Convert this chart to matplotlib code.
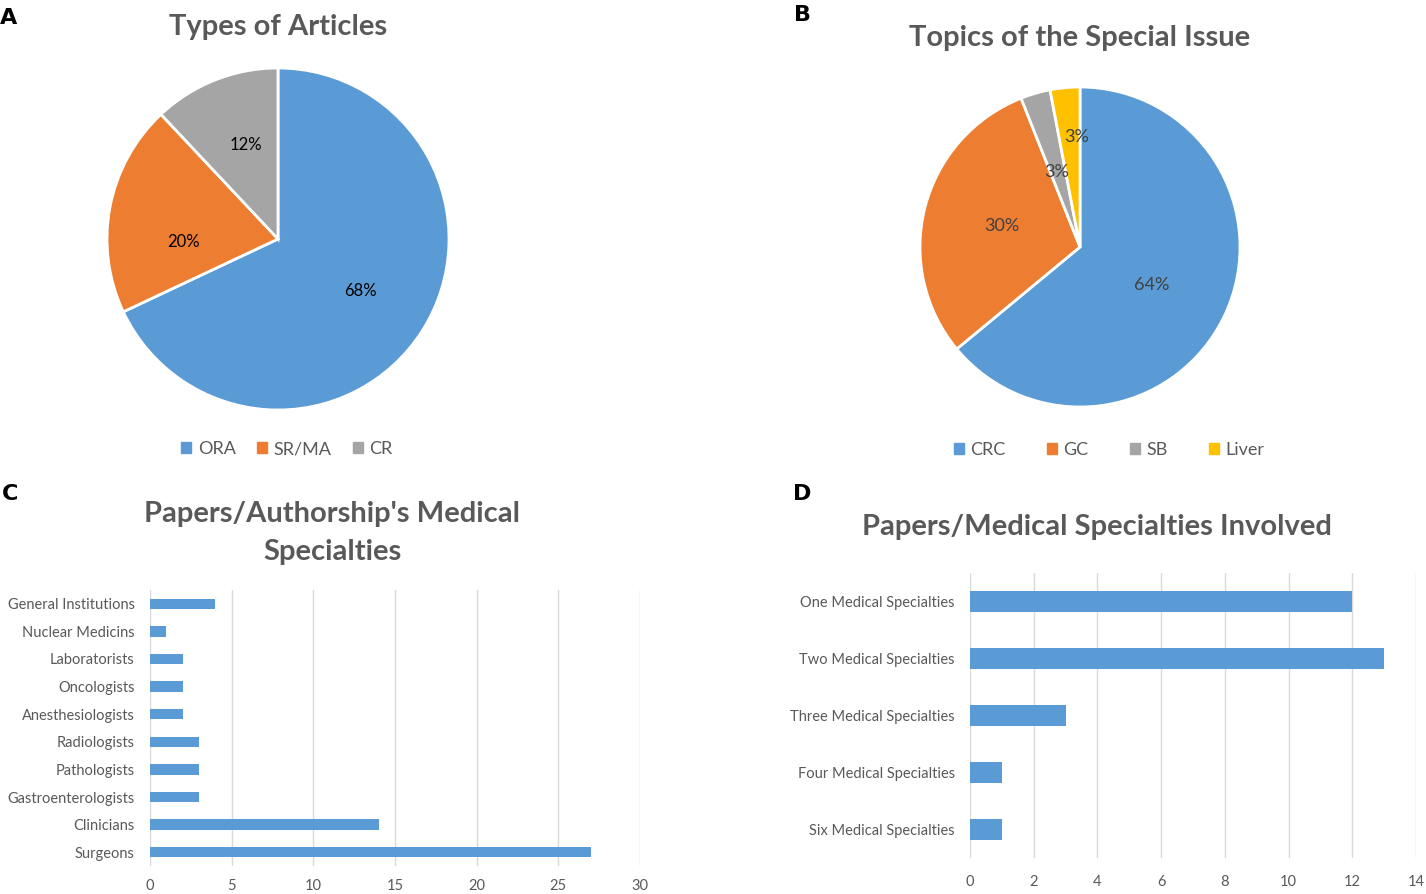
import matplotlib
matplotlib.use('Agg')
import matplotlib.pyplot as plt
from matplotlib.patches import Patch

# panel A
article_types = ['ORA', 'SR/MA', 'CR']
article_pct = [68, 20, 12]

# panel B
topics = ['CRC', 'GC', 'SB', 'Liver']
topic_pct = [64, 30, 3, 3]

# panel C
specialties = ['Surgeons', 'Clinicians', 'Gastroenterologists', 'Pathologists', 'Radiologists',
               'Anesthesiologists', 'Oncologists', 'Laboratorists', 'Nuclear Medicins',
               'General Institutions']
specialty_papers = [27, 14, 3, 3, 3, 2, 2, 2, 1, 4]

# panel D
involved = ['Six Medical Specialties', 'Four Medical Specialties', 'Three Medical Specialties',
            'Two Medical Specialties', 'One Medical Specialties']
involved_papers = [1, 1, 3, 13, 12]

BLUE = '#5B9BD5'
ORANGE = '#ED7D31'
GRAY = '#A5A5A5'
YELLOW = '#FFC000'
TXT = '#595959'

plt.rcParams['font.family'] = ['Lato', 'DejaVu Sans']

W, H = 1426, 894
fig = plt.figure(figsize=(W / 100, H / 100), dpi=100)


def px_axes(x0, y0, x1, y1):
    return fig.add_axes([x0 / W, 1 - y1 / H, (x1 - x0) / W, (y1 - y0) / H])


def fig_text(x, y, s, **kw):
    fig.text(x / W, 1 - y / H, s, ha='center', va='center', **kw)


# ---- A
cx, cy, r = 278, 239, 171
ax = px_axes(cx - r, cy - r, cx + r, cy + r)
wedges, _, autot = ax.pie(article_pct, colors=[BLUE, ORANGE, GRAY], startangle=90, counterclock=False,
                          autopct='%d%%', pctdistance=0.57,
                          wedgeprops=dict(edgecolor='white', linewidth=2),
                          textprops=dict(color='black', fontsize=12))
# excel "best fit" label spots
autot[1].set_position((-0.55, -0.02))
autot[2].set_position((-0.19, 0.55))
ax.set_xlim(-1, 1)
ax.set_ylim(-1, 1)
fig_text(278, 27, 'Types of Articles', fontsize=21, fontweight='bold', color=TXT)
fig.legend(handles=[Patch(color=c) for c in [BLUE, ORANGE, GRAY]], labels=article_types,
           loc='center', bbox_to_anchor=(287 / W, 1 - 449 / H), ncol=3, frameon=False,
           handlelength=0.55, handleheight=0.55, handletextpad=0.35, columnspacing=1.2,
           fontsize=13, labelcolor=TXT)

# ---- B
cx, cy, r = 1080, 247, 160
ax = px_axes(cx - r, cy - r, cx + r, cy + r)
wedges, _, autot = ax.pie(topic_pct, colors=[BLUE, ORANGE, GRAY, YELLOW], startangle=90, counterclock=False,
                          autopct='%d%%', pctdistance=0.5,
                          wedgeprops=dict(edgecolor='white', linewidth=2),
                          textprops=dict(color='#404040', fontsize=13))
autot[0].set_position((0.45, -0.24))
autot[1].set_position((-0.49, 0.13))
autot[2].set_position((-0.145, 0.47))
autot[3].set_position((-0.02, 0.69))
ax.set_xlim(-1, 1)
ax.set_ylim(-1, 1)
fig_text(1080, 38, 'Topics of the Special Issue', fontsize=21, fontweight='bold', color=TXT)
fig.legend(handles=[Patch(color=c) for c in [BLUE, ORANGE, GRAY, YELLOW]], labels=topics,
           loc='center', bbox_to_anchor=(1109 / W, 1 - 450 / H), ncol=4, frameon=False,
           handlelength=0.55, handleheight=0.55, handletextpad=0.35, columnspacing=2.3,
           fontsize=13, labelcolor=TXT)


def style_bar_axes(ax, xpad):
    for s in ax.spines.values():
        s.set_visible(False)
    ax.grid(axis='x', color='#D9D9D9', linewidth=1)
    ax.set_axisbelow(True)
    ax.tick_params(length=0, labelcolor=TXT, labelsize=10.5)
    ax.tick_params(axis='y', pad=11)
    ax.tick_params(axis='x', pad=xpad)


# ---- C
ax = px_axes(150, 590, 640, 866)
ax.barh(range(len(specialties)), specialty_papers, height=0.38, color=BLUE)
ax.set_yticks(range(len(specialties)), specialties)
ax.set_xlim(0, 30)
ax.set_xticks(range(0, 31, 5))
ax.set_ylim(-0.5, len(specialties) - 0.5)
style_bar_axes(ax, 9)
fig_text(332, 533, "Papers/Authorship's Medical\nSpecialties", fontsize=21, fontweight='bold',
         color=TXT, linespacing=1.55)

# ---- D
ax = px_axes(970, 573, 1416, 858)
ax.barh(range(len(involved)), involved_papers, height=0.36, color=BLUE)
ax.set_yticks(range(len(involved)), involved)
ax.set_xlim(0, 14)
ax.set_xticks(range(0, 15, 2))
ax.set_ylim(-0.5, len(involved) - 0.5)
style_bar_axes(ax, 12)
fig_text(1097, 527, 'Papers/Medical Specialties Involved', fontsize=21, fontweight='bold', color=TXT)

# panel letters
for lab, x, y in [('A', 9, 18), ('B', 802, 15), ('C', 10, 494), ('D', 802, 494)]:
    fig_text(x, y, lab, fontsize=16, fontweight='bold', color='black', family='DejaVu Sans')

fig.savefig('out.png', dpi=100)
